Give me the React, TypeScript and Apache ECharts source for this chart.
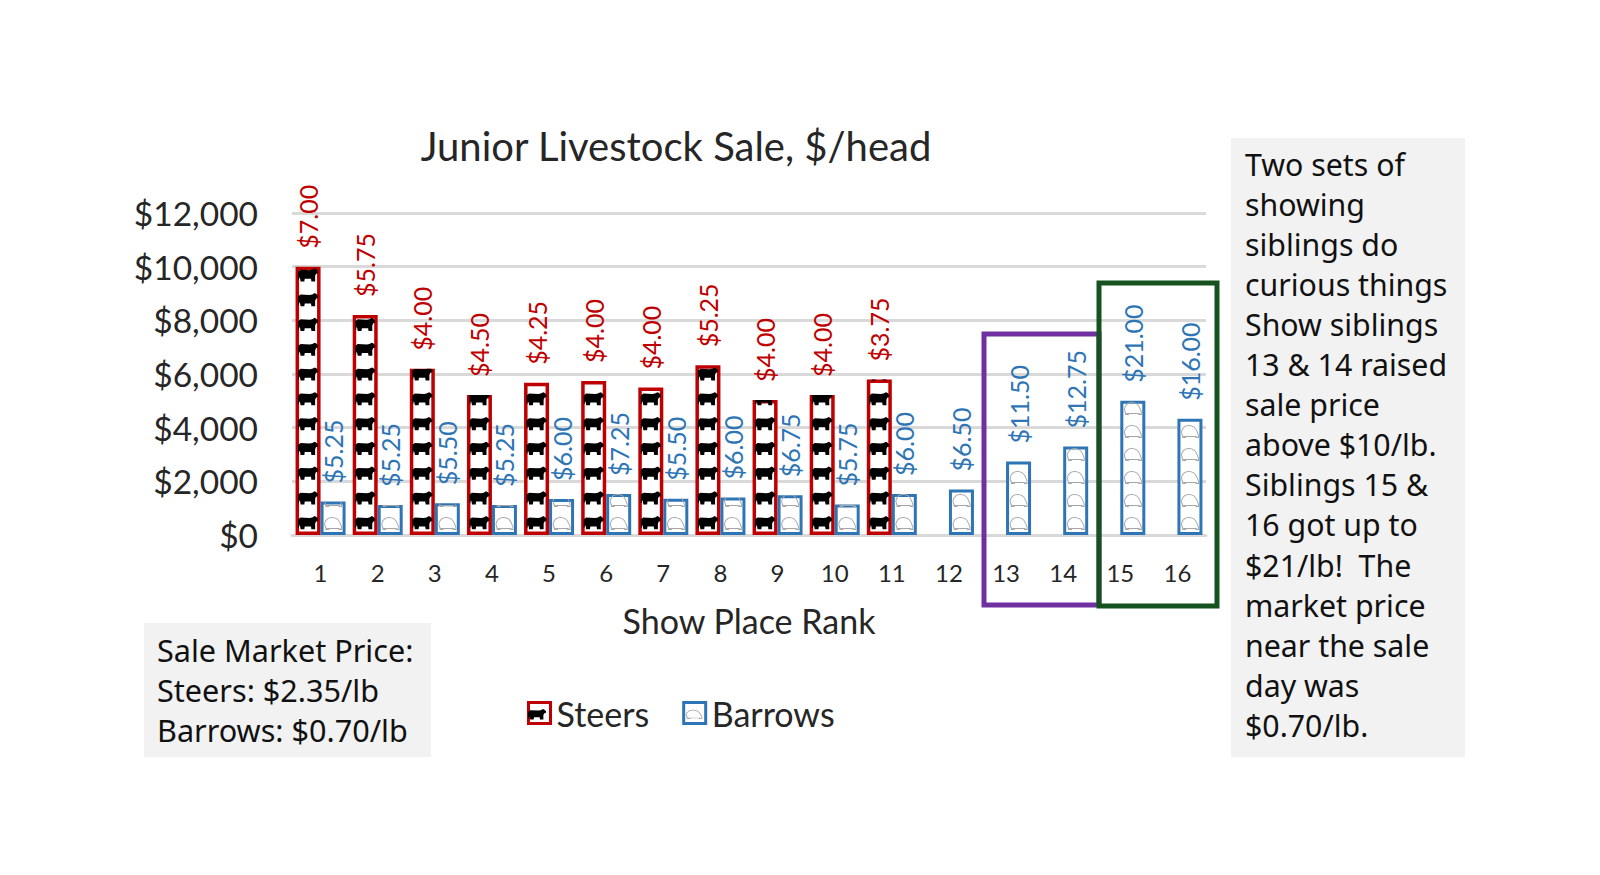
import React, { useEffect, useRef } from "react";
import * as echarts from "echarts";

const categories = ["1","2","3","4","5","6","7","8","9","10","11","12","13","14","15","16"];
const steerValues = [10000,8200,6200,5220,5670,5740,5495,6325,5035,5220,5795,null,null,null,null,null];
const barrowValues = [1250,1120,1185,1120,1345,1530,1350,1400,1480,1140,1530,1700,2740,3300,5000,4330];
const steerPrices = ["$7.00","$5.75","$4.00","$4.50","$4.25","$4.00","$4.00","$5.25","$4.00","$4.00","$3.75","","","","",""];
const barrowPrices = ["$5.25","$5.25","$5.50","$5.25","$6.00","$7.25","$5.50","$6.00","$6.75","$5.75","$6.00","$6.50","$11.50","$12.75","$21.00","$16.00"];
const yTicks = { min: 0, max: 12000, interval: 2000 };
const marketNote = ["Sale Market Price:", "Steers: $2.35/lb", "Barrows: $0.70/lb"];
const sideNote = ["Two sets of","showing","siblings do","curious things","Show siblings","13 & 14 raised","sale price","above $10/lb.","Siblings 15 &","16 got up to","$21/lb!  The","market price","near the sale","day was","$0.70/lb."];

const COW = "M0 3.5 L3 1.5 L14 2 L17 1.5 L20 0 L22 1 L24 3 L24 5 L21.5 6 L20.5 8 L20.5 14 L16 14 L15.5 11 L8 11 L7.5 14 L3 14 L2.5 11 L1.5 9.5 L1 12.5 L0 12.5 Z";
const PIG = "M1 8 Q3 1 11 1 Q19 1 22 7 L24 11 L24 14 L20 14 L19 13 L8 13 L7 14 L3 14 L2 11 Z M3.2 10.5 L4 12.2 L6.5 12 L20 12 L22.8 12.8 L22.8 11.2 L21 7.5 Q18.3 2.2 11 2.2 Q4.3 2.2 2.2 8 Z";
echarts.graphic.registerShape("cowIcon", echarts.graphic.extendPath(COW, {}));
echarts.graphic.registerShape("pigIcon", echarts.graphic.extendPath(PIG, {}));

const FONT = "Lato";
const RED = "#c00000";
const BLUE = "#2e75b6";
const BAR_W = 25;
const BAR_GAP = 0;

function App() {
  const ref = useRef<HTMLDivElement>(null);
  useEffect(() => {
    const chart = echarts.init(ref.current!, null, { renderer: "svg" });
    const barLabel = (arr: string[], color: string) => ({
      show: true,
      position: "top" as const,
      rotate: 90,
      align: "left" as const,
      verticalAlign: "middle" as const,
      distance: 18,
      fontFamily: FONT,
      fontSize: 25,
      color,
      formatter: (p: any) => arr[p.dataIndex],
    });
    chart.setOption({
      animation: false,
      backgroundColor: "#ffffff",
      textStyle: { fontFamily: FONT },
      title: {
        text: "Junior Livestock Sale, $/head",
        left: 671,
        top: 121,
        textAlign: "center",
        textStyle: { fontFamily: FONT, fontSize: 40, fontWeight: "normal", color: "#262626" },
      },
      grid: { left: 292, top: 213, width: 914, height: 322 },
      legend: {
        left: 522,
        top: 691,
        itemWidth: 22,
        itemHeight: 21,
        itemGap: 33,
        data: [
          { name: "Steers", icon: "rect", itemStyle: { color: "#fff", borderColor: RED, borderWidth: 3 } },
          { name: "Barrows", icon: "rect", itemStyle: { color: "#fff", borderColor: BLUE, borderWidth: 3 } },
        ],
        textStyle: { fontFamily: FONT, fontSize: 34, color: "#262626", padding: [0, 0, 0, 1] },
      },
      xAxis: {
        type: "category",
        data: categories,
        name: "Show Place Rank",
        nameLocation: "center",
        nameGap: 68,
        nameTextStyle: { fontFamily: FONT, fontSize: 34, color: "#262626" },
        axisLine: { lineStyle: { color: "#d9d9d9", width: 3 } },
        axisTick: { show: false },
        axisLabel: { fontFamily: FONT, fontSize: 24, color: "#262626", margin: 25 },
      },
      yAxis: {
        type: "value",
        min: yTicks.min,
        max: yTicks.max,
        interval: yTicks.interval,
        axisLine: { show: false },
        axisTick: { show: false },
        splitLine: { lineStyle: { color: "#d9d9d9", width: 3 } },
        axisLabel: {
          fontFamily: FONT,
          fontSize: 33.5,
          color: "#262626",
          margin: 34,
          padding: [0, 0, 5, 0],
          formatter: (v: number) => "$" + v.toLocaleString("en-US"),
        },
      },
      series: [
        {
          name: "Steers",
          type: "bar",
          data: steerValues,
          barWidth: BAR_W,
          barGap: BAR_GAP,
          z: 2,
          itemStyle: { color: "#fff", borderColor: RED, borderWidth: 3.5 },
          label: barLabel(steerPrices, RED),
        },
        {
          name: "Barrows",
          type: "bar",
          data: barrowValues,
          barWidth: BAR_W,
          barGap: BAR_GAP,
          z: 2,
          itemStyle: { color: "#fff", borderColor: BLUE, borderWidth: 3 },
          label: barLabel(barrowPrices, BLUE),
        },
        {
          name: "Steers",
          type: "pictorialBar",
          data: steerValues,
          barWidth: BAR_W,
          barGap: BAR_GAP,
          symbol: "path://" + COW,
          symbolSize: [20, 13],
          symbolRepeat: true,
          symbolMargin: "6!",
          symbolClip: true,
          symbolPosition: "start",
          z: 3,
          itemStyle: { color: "#000" },
          silent: true,
        },
        {
          name: "Barrows",
          type: "pictorialBar",
          data: barrowValues,
          barWidth: BAR_W,
          barGap: BAR_GAP,
          symbol: "path://" + PIG,
          symbolSize: [18, 13],
          symbolRepeat: true,
          symbolMargin: "5.25!",
          symbolClip: true,
          symbolPosition: "start",
          z: 3,
          itemStyle: { color: "#a6a6a6" },
          silent: true,
        },
      ],
      graphic: [
        { type: "rect", z: 1, shape: { x: 144, y: 623, width: 287, height: 134 }, style: { fill: "#f2f2f2" } },
        {
          type: "text", z: 5, x: 157, y: 630,
          style: { text: marketNote.join("\n"), font: "30.6px 'Noto Sans'", lineHeight: 40.1, fill: "#111", textVerticalAlign: "top" },
        },
        { type: "rect", z: 1, shape: { x: 1231, y: 138, width: 234, height: 619 }, style: { fill: "#f2f2f2" } },
        {
          type: "text", z: 5, x: 1245, y: 144,
          style: { text: sideNote.join("\n"), font: "30.3px 'Noto Sans'", lineHeight: 40.1, fill: "#111", textVerticalAlign: "top" },
        },
        { type: "rect", z: 6, shape: { x: 984, y: 334, width: 115, height: 271 }, style: { fill: "none", stroke: "#7030a0", lineWidth: 5 } },
        { type: "rect", z: 7, shape: { x: 1099, y: 283, width: 118, height: 323 }, style: { fill: "none", stroke: "#14521f", lineWidth: 5 } },
        { type: "cowIcon", z: 8, x: 528, y: 709, scaleX: 0.75, scaleY: 0.75, style: { fill: "#000" } },
        { type: "pigIcon", z: 8, x: 685, y: 709, scaleX: 0.72, scaleY: 0.72, style: { fill: "#a6a6a6" } },
      ],
    });
    return () => chart.dispose();
  }, []);
  return <div ref={ref} style={{ position: "absolute", left: 0, top: 0, width: 1600, height: 875 }} />;
}

export default App;
